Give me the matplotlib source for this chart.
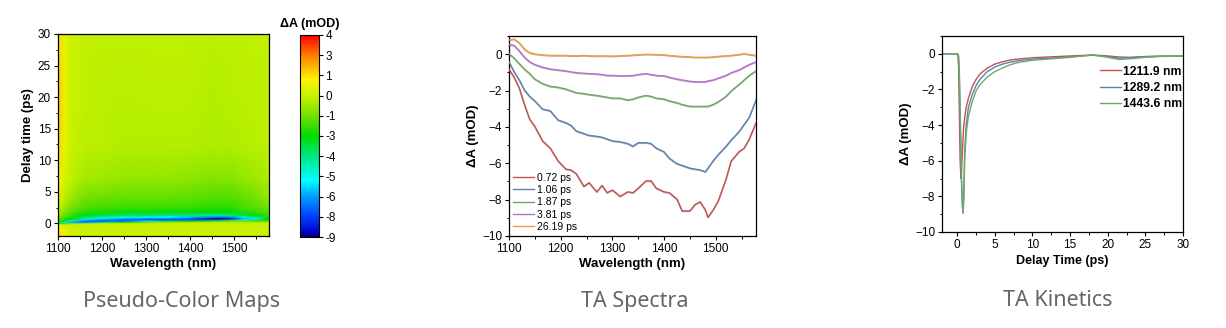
import numpy as np
import matplotlib
matplotlib.use("Agg")
import matplotlib.pyplot as plt
from matplotlib.colors import LinearSegmentedColormap, FuncNorm
from matplotlib.ticker import MultipleLocator

plt.rcParams['font.family'] = ['Liberation Sans', 'DejaVu Sans']
plt.rcParams['font.size'] = 8.5
plt.rcParams['axes.linewidth'] = 0.9

# ---- pseudo-colour map ----
map_wl = [1100, 1115, 1130, 1160, 1200, 1250, 1300, 1350, 1400, 1450, 1490, 1520, 1550, 1580]
map_t = [-2, -0.2, 0.0, 0.2, 0.4, 0.6, 0.8, 1.0, 1.3, 1.8, 2.5, 4, 7, 12, 20, 30]
map_dA = [
    [0.9, 0.5, 0.1, 0, 0, 0, 0, 0, 0, 0, 0, 0, 0, 0],
    [0.7, 0.3, 0.1, 0, 0, 0, 0, 0, 0, 0, 0, 0, 0, 0],
    [-2.5, -1.5, -0.5, -0.2, 0, 0, 0, 0, 0, 0, 0, 0, 0, 0],
    [-3.5, -5.0, -6.0, -6.5, -4.0, -2.5, -1.0, -0.5, -0.3, -0.2, -0.2, -0.3, -0.3, -0.3],
    [-2.0, -3.5, -5.0, -7.0, -7.5, -7.0, -5.0, -3.5, -3.0, -2.0, -1.0, -1.0, -1.5, -1.5],
    [-1.5, -2.5, -3.5, -5.5, -6.5, -7.5, -7.8, -7.8, -7.5, -7.5, -6.0, -5.0, -4.0, -3.0],
    [-1.0, -2.0, -3.0, -4.5, -5.0, -6.0, -6.5, -6.5, -7.5, -9.0, -9.0, -6.0, -5.0, -3.0],
    [-0.8, -1.6, -2.5, -3.8, -4.5, -5.0, -5.0, -5.2, -5.8, -6.5, -6.5, -5.0, -4.0, -2.5],
    [-0.5, -1.2, -2.0, -3.0, -3.5, -3.8, -3.8, -4.0, -4.0, -4.2, -4.0, -3.5, -3.0, -2.0],
    [-0.3, -0.8, -1.5, -2.3, -2.6, -2.8, -2.8, -2.9, -2.9, -3.0, -3.0, -2.5, -2.0, -1.5],
    [0.0, -0.5, -1.0, -1.6, -1.9, -2.0, -2.0, -2.0, -2.1, -2.3, -2.3, -1.8, -1.5, -1.0],
    [0.4, -0.2, -0.5, -1.0, -1.2, -1.3, -1.3, -1.3, -1.4, -1.6, -1.6, -1.3, -1.0, -0.6],
    [0.8, 0.2, -0.1, -0.4, -0.5, -0.6, -0.6, -0.6, -0.7, -0.8, -0.8, -0.6, -0.5, -0.3],
    [1.2, 0.4, 0.0, -0.15, -0.2, -0.25, -0.25, -0.25, -0.25, -0.3, -0.3, -0.25, -0.2, -0.15],
    [1.6, 0.5, 0.05, -0.1, -0.15, -0.2, -0.15, -0.15, -0.15, -0.25, -0.2, -0.15, -0.15, -0.1],
    [1.0, 0.4, 0.05, -0.05, -0.1, -0.1, -0.1, -0.1, -0.1, -0.15, -0.15, -0.1, -0.1, -0.1],
]
cb_levels = [-9, -8, -6, -5, -4, -3, -1, 0, 1, 3, 4]

# ---- TA spectra ----
spec_wl = [1100, 1110, 1120, 1130, 1140, 1150, 1165, 1180, 1195, 1210, 1220, 1230, 1245, 1255,
           1270, 1280, 1290, 1300, 1315, 1330, 1340, 1350, 1365, 1375, 1385, 1400, 1410, 1425,
           1435, 1450, 1460, 1470, 1480, 1485, 1495, 1505, 1520, 1530, 1545, 1555, 1565, 1578]
spec_072 = [-0.86, -1.3, -1.9, -2.8, -3.6, -4.0, -4.8, -5.2, -5.9, -6.35, -6.4, -6.6, -7.3, -7.1,
            -7.6, -7.25, -7.65, -7.5, -7.85, -7.6, -7.65, -7.4, -7.0, -7.0, -7.4, -7.6, -7.65, -8.0,
            -8.65, -8.65, -8.3, -8.15, -8.6, -9.0, -8.6, -8.1, -6.9, -5.9, -5.4, -5.2, -4.7, -3.8]
spec_106 = [-0.45, -1.0, -1.45, -2.0, -2.35, -2.6, -3.05, -3.15, -3.65, -3.8, -3.95, -4.25, -4.4, -4.5,
            -4.55, -4.6, -4.7, -4.8, -4.85, -4.95, -5.1, -4.9, -4.9, -4.95, -5.2, -5.4, -5.75, -6.05,
            -6.15, -6.3, -6.35, -6.4, -6.5, -6.3, -5.9, -5.55, -5.1, -4.75, -4.3, -3.9, -3.5, -2.55]
spec_187 = [0.0, -0.25, -0.55, -0.85, -1.1, -1.4, -1.65, -1.8, -1.85, -1.95, -2.05, -2.15, -2.2, -2.25,
            -2.3, -2.35, -2.4, -2.45, -2.45, -2.55, -2.5, -2.4, -2.3, -2.35, -2.45, -2.5, -2.6, -2.7,
            -2.8, -2.9, -2.9, -2.9, -2.9, -2.9, -2.8, -2.65, -2.35, -2.05, -1.7, -1.45, -1.2, -0.95]
spec_381 = [0.5, 0.45, 0.15, -0.2, -0.45, -0.6, -0.75, -0.85, -0.9, -0.95, -1.0, -1.05, -1.08, -1.1,
            -1.12, -1.15, -1.2, -1.2, -1.22, -1.22, -1.2, -1.15, -1.1, -1.15, -1.2, -1.22, -1.3, -1.4,
            -1.45, -1.52, -1.55, -1.55, -1.55, -1.5, -1.45, -1.35, -1.2, -1.05, -0.9, -0.75, -0.6, -0.45]
spec_2619 = [0.75, 0.8, 0.6, 0.25, 0.05, -0.02, -0.07, -0.1, -0.1, -0.1, -0.12, -0.12, -0.1, -0.12,
             -0.13, -0.12, -0.13, -0.14, -0.12, -0.1, -0.08, -0.06, -0.04, -0.04, -0.05, -0.07, -0.1, -0.14,
             -0.16, -0.18, -0.2, -0.2, -0.2, -0.2, -0.18, -0.15, -0.12, -0.1, -0.05, 0.0, -0.05, -0.1]
spec_labels = ['0.72 ps', '1.06 ps', '1.87 ps', '3.81 ps', '26.19 ps']
spec_colors = ['#c8514f', '#5a82b4', '#6fab66', '#bd6fd0', '#eea040']

# ---- TA kinetics ----
kin_t = [-2, -1, -0.5, 0, 0.1, 0.2, 0.3, 0.4, 0.5, 0.6, 0.7, 0.8, 0.9, 1.0, 1.2, 1.5, 2, 2.5, 3,
         4, 5, 6, 7, 8, 10, 12, 15, 18, 20, 21.5, 23, 25, 27, 30]
kin_1211 = [0, 0, 0, 0, -0.05, -0.8, -3.5, -6.0, -7.0, -6.5, -5.5, -4.6, -4.0, -3.6, -3.0, -2.5,
            -1.85, -1.45, -1.15, -0.8, -0.58, -0.45, -0.35, -0.3, -0.22, -0.18, -0.12, -0.07,
            -0.12, -0.18, -0.2, -0.15, -0.13, -0.13]
kin_1289 = [0, 0, 0, 0, -0.02, -0.3, -1.5, -3.5, -5.5, -7.5, -8.6, -8.9, -7.5, -5.5, -4.0, -3.0,
            -2.3, -1.8, -1.45, -1.0, -0.75, -0.58, -0.47, -0.4, -0.3, -0.25, -0.17, -0.08,
            -0.15, -0.25, -0.22, -0.17, -0.14, -0.13]
kin_1443 = [0, 0, 0, 0, -0.01, -0.1, -1.0, -3.0, -5.0, -7.2, -8.4, -8.95, -8.0, -6.0, -4.5, -3.5,
            -2.7, -2.1, -1.75, -1.3, -1.0, -0.8, -0.62, -0.5, -0.36, -0.3, -0.2, -0.06,
            -0.2, -0.32, -0.28, -0.2, -0.15, -0.13]
kin_labels = ['1211.9 nm', '1289.2 nm', '1443.6 nm']
kin_colors = ['#c8514f', '#5a82b4', '#6fab66']

fig = plt.figure(figsize=(12.26, 3.28), dpi=100)


def style_axis(ax):
    ax.tick_params(which='major', direction='out', length=3, width=0.8, labelsize=8.5, pad=2)
    ax.tick_params(which='minor', direction='out', length=1.8, width=0.7)


# pseudo colour map
cmap = LinearSegmentedColormap.from_list('ta', [
    (0.0, (0.0, 0.0, 0.35)), (0.02, (0.0, 0.0, 0.8)), (0.1, (0.0, 0.25, 1.0)),
    (0.2, (0.0, 0.62, 1.0)), (0.28, (0.0, 1.0, 1.0)), (0.4, (0.0, 0.9, 0.5)),
    (0.5, (0.0, 0.86, 0.0)), (0.6, (0.45, 0.88, 0.0)), (0.7, (0.78, 0.95, 0.0)),
    (0.78, (1.0, 0.95, 0.0)), (0.9, (1.0, 0.5, 0.0)), (1.0, (1.0, 0.0, 0.0))])
cb_pos = np.linspace(0, 1, len(cb_levels))
norm = FuncNorm((lambda x: np.interp(x, cb_levels, cb_pos),
                 lambda y: np.interp(y, cb_pos, cb_levels)), vmin=-9, vmax=4)

ax1 = fig.add_axes([0.0473, 0.2805, 0.1721, 0.616])
mesh = ax1.pcolormesh(map_wl, map_t, np.array(map_dA), cmap=cmap, norm=norm, shading='gouraud')
ax1.set_xlim(1100, 1580)
ax1.set_ylim(-2, 30)
ax1.xaxis.set_major_locator(MultipleLocator(100))
ax1.xaxis.set_minor_locator(MultipleLocator(50))
ax1.yaxis.set_major_locator(MultipleLocator(5))
ax1.yaxis.set_minor_locator(MultipleLocator(2.5))
style_axis(ax1)
ax1.set_xlabel('Wavelength (nm)', fontsize=9.5, fontweight='bold', labelpad=2)
ax1.set_ylabel('Delay time (ps)', fontsize=9.5, fontweight='bold', labelpad=3)

cax = fig.add_axes([0.2447, 0.2774, 0.0155, 0.616])
cb = fig.colorbar(mesh, cax=cax)
cb.set_ticks(cb_levels)
cb.set_ticklabels([str(v) for v in cb_levels])
cb.ax.minorticks_off()
cb.ax.tick_params(length=3, width=0.8, labelsize=8.5, pad=1.5)
cb.outline.set_linewidth(0.8)
cax.set_title('\u0394A (mOD)', fontsize=9, fontweight='bold', pad=6)

# spectra
ax2 = fig.add_axes([0.4152, 0.2805, 0.2015, 0.6098])
for vals, lab, col in zip([spec_072, spec_106, spec_187, spec_381, spec_2619], spec_labels, spec_colors):
    ax2.plot(spec_wl, vals, color='#b0b0b0', lw=1.1, zorder=2)
    ax2.plot(spec_wl, np.array(vals) + 0.03, color=col, lw=1.0, label=lab, zorder=3)
ax2.set_xlim(1100, 1578)
ax2.set_ylim(-10, 1)
ax2.xaxis.set_major_locator(MultipleLocator(100))
ax2.xaxis.set_minor_locator(MultipleLocator(50))
ax2.yaxis.set_major_locator(MultipleLocator(2))
ax2.yaxis.set_minor_locator(MultipleLocator(1))
style_axis(ax2)
ax2.set_xlabel('Wavelength (nm)', fontsize=9.5, fontweight='bold', labelpad=2)
ax2.set_ylabel('\u0394A (mOD)', fontsize=9.5, fontweight='bold', labelpad=2)
ax2.legend(loc='lower left', frameon=False, fontsize=7.5, handlelength=2.0, handletextpad=0.3,
           labelspacing=0.22, borderaxespad=0.2, borderpad=0.2)

# kinetics
ax3 = fig.add_axes([0.7684, 0.2927, 0.1966, 0.5976])
for vals, lab, col in zip([kin_1211, kin_1289, kin_1443], kin_labels, kin_colors):
    ax3.plot(kin_t, vals, color=col, lw=1.0, label=lab)
ax3.set_xlim(-2, 30)
ax3.set_ylim(-10, 1)
ax3.xaxis.set_major_locator(MultipleLocator(5))
ax3.xaxis.set_minor_locator(MultipleLocator(2.5))
ax3.yaxis.set_major_locator(MultipleLocator(2))
ax3.yaxis.set_minor_locator(MultipleLocator(1))
style_axis(ax3)
ax3.set_xlabel('Delay Time (ps)', fontsize=9, fontweight='bold', labelpad=3)
ax3.set_ylabel('\u0394A (mOD)', fontsize=9.5, fontweight='bold', labelpad=2)
leg = ax3.legend(loc='upper right', bbox_to_anchor=(1.0, 0.855), frameon=False, fontsize=8.7,
                 handlelength=1.7, handletextpad=0.15, labelspacing=0.35, borderaxespad=0.0,
                 borderpad=0.1)
for t in leg.get_texts():
    t.set_fontweight('bold')

# captions under each panel
for x, txt in [(182, 'Pseudo-Color Maps'), (635, 'TA Spectra'), (1058, 'TA Kinetics')]:
    fig.text(x / 1226, 1 - 301 / 328, txt, ha='center', va='center', fontsize=15.5,
             color='#666666', family=['Noto Sans', 'DejaVu Sans'])

fig.savefig('out.png', dpi=100)
